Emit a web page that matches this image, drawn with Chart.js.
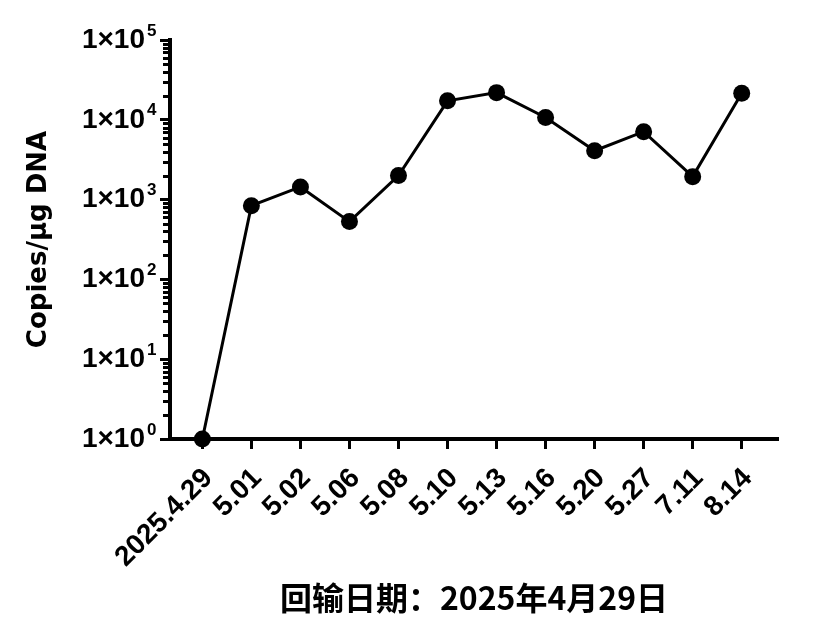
<!DOCTYPE html>
<html>
<head>
<meta charset="utf-8">
<script src="https://cdn.jsdelivr.net/npm/chart.js@4/dist/chart.umd.min.js"></script>
<style>
  html, body { margin: 0; padding: 0; background: #ffffff; }
  #wrap { width: 828px; height: 635px; }
</style>
</head>
<body>
<div id="wrap"><canvas id="c" width="828" height="635"></canvas></div>
<script>
// ---- data ----
const categories = ['2025.4.29', '5.01', '5.02', '5.06', '5.08', '5.10', '5.13', '5.16', '5.20', '5.27', '7.11', '8.14'];
const copies = [1, 840, 1440, 530, 2000, 17300, 21900, 10700, 4100, 7100, 1940, 21500];
const yDecades = [1, 10, 100, 1000, 10000, 100000];
const yTickBase = '1×10';
const yTickExponents = ['0', '1', '2', '3', '4', '5'];
const yTitle = 'Copies/µg DNA';
const xTitle = '回输日期：2025年4月29日';

// ---- build ----
const points = categories.map((c, i) => ({ x: i, y: copies[i] }));
const yTickValues = [];
yDecades.forEach((d, k) => {
  if (k < yDecades.length - 1) {
    for (let m = 1; m <= 9; m++) yTickValues.push(m * d);
  } else {
    yTickValues.push(d);
  }
});
const isDecade = v => yDecades.indexOf(v) !== -1;

const ARIAL = '"Liberation Sans", Arial, Helvetica, sans-serif';
const Y_TICK_LEN = 10, Y_TICK_PAD = 15, MINOR_LEN = 7;

// minor log ticks and exponent superscripts, placed through the y scale
const logAxisExtras = {
  id: 'logAxisExtras',
  afterDraw(chart) {
    const ys = chart.scales.y;
    const ctx = chart.ctx;
    const axisX = chart.chartArea.left;
    ctx.save();
    ctx.strokeStyle = '#000';
    ctx.lineWidth = 3;
    yTickValues.forEach(v => {
      if (isDecade(v)) return;
      const py = Math.round(ys.getPixelForValue(v)) + 0.5;
      ctx.beginPath();
      ctx.moveTo(axisX - MINOR_LEN, py);
      ctx.lineTo(axisX, py);
      ctx.stroke();
    });
    ctx.fillStyle = '#000';
    ctx.font = 'bold 17px ' + ARIAL;
    ctx.textAlign = 'left';
    ctx.textBaseline = 'middle';
    yDecades.forEach((d, k) => {
      const py = ys.getPixelForValue(d);
      const x = axisX - Y_TICK_LEN - Y_TICK_PAD + 2;
      ctx.fillText(yTickExponents[k], x, py - 9);
    });
    ctx.restore();
  }
};

Chart.defaults.font.family = ARIAL;
Chart.defaults.color = '#000';

new Chart(document.getElementById('c'), {
  type: 'line',
  data: {
    datasets: [{
      data: points,
      borderColor: '#000',
      borderWidth: 3,
      pointRadius: 8.5,
      pointHoverRadius: 8.5,
      pointBackgroundColor: '#000',
      pointBorderColor: '#000',
      pointBorderWidth: 0,
      tension: 0,
      clip: false
    }]
  },
  plugins: [logAxisExtras],
  options: {
    responsive: false,
    animation: false,
    devicePixelRatio: 1,
    layout: { padding: { top: 40, right: 50, left: 0, bottom: 0 } },
    plugins: { legend: { display: false }, tooltip: { enabled: false }, title: { display: false } },
    scales: {
      x: {
        type: 'linear',
        min: -0.66,
        max: 11.74,
        afterBuildTicks: s => { s.ticks = categories.map((c, i) => ({ value: i })); },
        afterFit: s => { s.height = 196; },
        border: { display: true, color: '#000', width: 4 },
        grid: { drawOnChartArea: false, drawTicks: true, tickLength: 10, tickWidth: 3, tickColor: '#000' },
        ticks: {
          autoSkip: false,
          minRotation: 45,
          maxRotation: 45,
          padding: 13,
          labelOffset: 6,
          color: '#000',
          font: { size: 28, weight: 'bold' },
          callback: v => categories[v]
        },
        title: {
          display: true,
          text: xTitle,
          color: '#000',
          font: { family: '"Noto Sans CJK SC", sans-serif', size: 32, weight: 'bold' },
          padding: { top: 0, bottom: 18 }
        }
      },
      y: {
        type: 'logarithmic',
        min: 1,
        max: 100000,
        afterBuildTicks: s => { s.ticks = yTickValues.map(v => ({ value: v, major: isDecade(v) })); },
        afterFit: s => { s.width = 170; },
        border: { display: true, color: '#000', width: 4 },
        grid: {
          drawOnChartArea: false,
          drawTicks: true,
          tickLength: Y_TICK_LEN,
          tickWidth: 3,
          tickColor: ctx => isDecade(ctx.tick.value) ? '#000' : 'rgba(0,0,0,0)'
        },
        ticks: {
          autoSkip: false,
          padding: Y_TICK_PAD,
          color: '#000',
          font: { size: 28, weight: 'bold' },
          callback: v => isDecade(v) ? yTickBase : ''
        },
        title: {
          display: true,
          text: yTitle,
          color: '#000',
          font: { family: '"DejaVu Sans", sans-serif', size: 26, weight: 'bold' },
          padding: { top: 24, bottom: 0 }
        }
      }
    }
  }
});
</script>
</body>
</html>
